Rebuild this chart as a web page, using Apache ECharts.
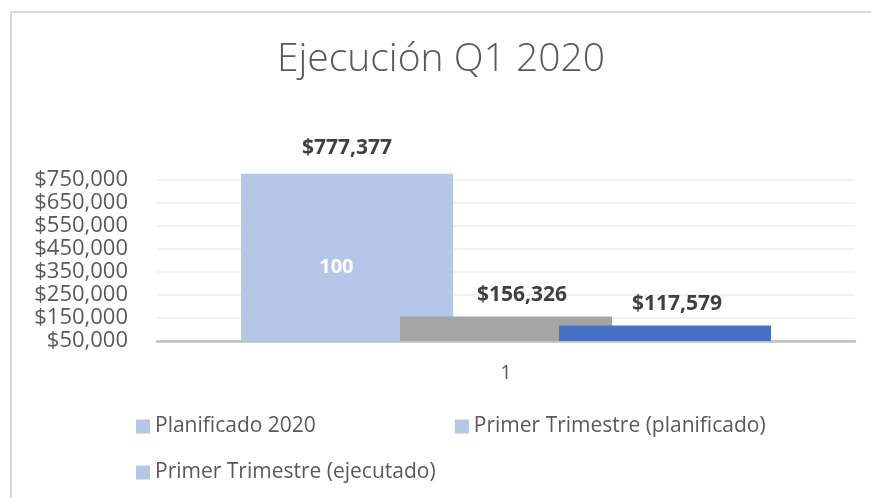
<!DOCTYPE html>
<html>
<head>
<meta charset="utf-8">
<script src="https://cdn.jsdelivr.net/npm/echarts@6/dist/echarts.min.js"></script>
<style>
  html, body { margin: 0; padding: 0; background: #fff; }
  #chart { width: 871px; height: 498px; position: relative; }
  .frame {
    position: absolute; left: 10px; top: 11px; width: 900px; height: 520px;
    border: 2px solid #d9d9d9; box-sizing: border-box; pointer-events: none;
  }
</style>
</head>
<body>
<div class="frame"></div>
<div id="chart"></div>
<script>
// datos del gráfico
const categories = ['1']
const seriesNames = ['Planificado 2020', 'Primer Trimestre (planificado)', 'Primer Trimestre (ejecutado)']
const planificado2020 = [777377]
const trimestrePlanificado = [156326]
const trimestreEjecutado = [117579]
const innerLabel = '100'

const fontFamily = '"Open Sans", "Noto Sans", sans-serif'
const money = v => '$' + Number(v).toLocaleString('en-US')

const chart = echarts.init(document.getElementById('chart'))

// etiqueta de valor sobre cada barra
const valueLabel = (dx, dist) => ({
  show: true,
  position: 'top',
  distance: dist,
  offset: [dx, 0],
  formatter: p => money(p.value),
  fontFamily,
  fontSize: 21,
  fontWeight: 'bold',
  color: '#404040',
})

const legendText = { fontFamily, fontSize: 21, color: '#595959' }

const option = {
  backgroundColor: 'transparent',
  animation: false,
  title: {
    text: 'Ejecución Q1 2020',
    left: 272,
    top: 35,
    textStyle: {
      fontFamily,
      fontSize: 39,
      fontWeight: 300,
      color: '#595959',
    },
  },
  grid: {
    left: 157,
    right: 16,
    top: 157,
    bottom: 157,
  },
  legend: [
    {
      data: seriesNames.slice(0, 2),
      left: 131,
      top: 411,
      icon: 'rect',
      itemWidth: 14,
      itemHeight: 14,
      itemGap: 139,
      itemStyle: { color: '#b4c7e7' },
      textStyle: legendText,
    },
    {
      data: seriesNames.slice(2),
      left: 131,
      top: 457,
      icon: 'rect',
      itemWidth: 14,
      itemHeight: 14,
      itemStyle: { color: '#b4c7e7' },
      textStyle: legendText,
    },
  ],
  xAxis: {
    type: 'category',
    data: categories,
    axisLine: { show: true, onZero: false, lineStyle: { color: '#bfbfbf', width: 2.5 } },
    axisTick: { show: false },
    axisLabel: {
      margin: 22,
      fontFamily,
      fontSize: 20,
      color: '#595959',
    },
  },
  yAxis: {
    type: 'value',
    min: 50000,
    max: 850000,
    interval: 100000,
    startValue: 50000,
    axisLine: { show: false },
    axisTick: { show: false },
    axisLabel: {
      margin: 29,
      showMaxLabel: false,
      formatter: v => money(v),
      fontFamily,
      fontSize: 22,
      color: '#595959',
    },
    splitLine: { showMaxLine: false, lineStyle: { color: '#eeeeee', width: 1.5 } },
  },
  series: [
    {
      name: seriesNames[0],
      type: 'bar',
      data: planificado2020,
      barWidth: 212,
      barGap: '-25%',
      itemStyle: { color: '#b4c7e7' },
      label: {
        show: true,
        position: ['45%', '56%'],
        align: 'center',
        verticalAlign: 'middle',
        formatter: () => innerLabel,
        fontFamily,
        fontSize: 20,
        fontWeight: 'bold',
        color: '#ffffff',
      },
      markPoint: {
        symbol: 'rect',
        symbolSize: 1,
        itemStyle: { color: 'rgba(0,0,0,0)' },
        data: [{ type: 'max' }],
        label: valueLabel(0, 15),
      },
    },
    {
      name: seriesNames[1],
      type: 'bar',
      data: trimestrePlanificado,
      barWidth: 212,
      barGap: '-25%',
      itemStyle: { color: '#a5a5a5' },
      label: valueLabel(16, 11),
    },
    {
      name: seriesNames[2],
      type: 'bar',
      data: trimestreEjecutado,
      barWidth: 212,
      barGap: '-25%',
      itemStyle: { color: '#4472c4' },
      label: valueLabel(12, 11),
    },
  ],
}

chart.setOption(option)
</script>
</body>
</html>
